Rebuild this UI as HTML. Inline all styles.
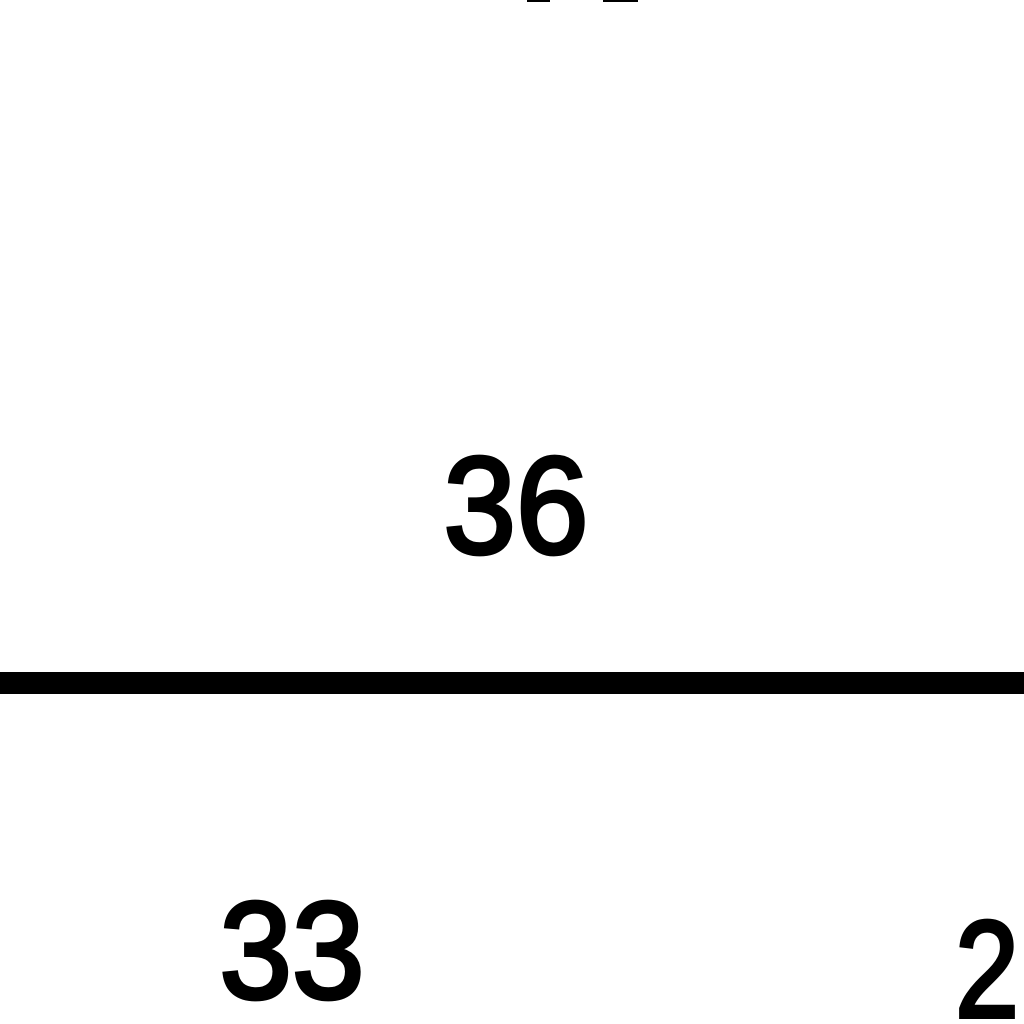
<!DOCTYPE html>
<html>
<head>
<meta charset="utf-8">
<style>
html,body{margin:0;padding:0;background:#fff;width:1024px;height:1024px;overflow:hidden;}
svg{display:block;}
text{font-family:"Liberation Sans",sans-serif;font-weight:normal;fill:#000;stroke:#000;stroke-width:4;}
</style>
</head>
<body>
<svg id="chart" width="1024" height="1024" viewBox="0 0 1024 1024">
  <rect x="0" y="0" width="1024" height="1024" fill="#fff"/>
  <rect x="527" y="0" width="23" height="2" fill="#000"/>
  <rect x="603" y="0" width="35" height="2" fill="#000"/>
  <rect x="0" y="672" width="1024" height="22" fill="#000"/>
</svg>
<script>
const labels = ["36", "33", "2"];
const labelX = [516, 292, 987];
const labelY = [553, 998, 1017];
const svg = document.getElementById('chart');
labels.forEach(function(t, i){
  const el = document.createElementNS('http://www.w3.org/2000/svg', 'text');
  el.setAttribute('x', labelX[i]);
  el.setAttribute('y', labelY[i]);
  el.setAttribute('text-anchor', 'middle');
  el.setAttribute('font-size', '138');
  el.setAttribute('textLength', t.length === 2 ? '145' : '64');
  el.setAttribute('lengthAdjust', 'spacingAndGlyphs');
  el.textContent = t;
  
  
  svg.appendChild(el);
});
</script>
</body>
</html>
